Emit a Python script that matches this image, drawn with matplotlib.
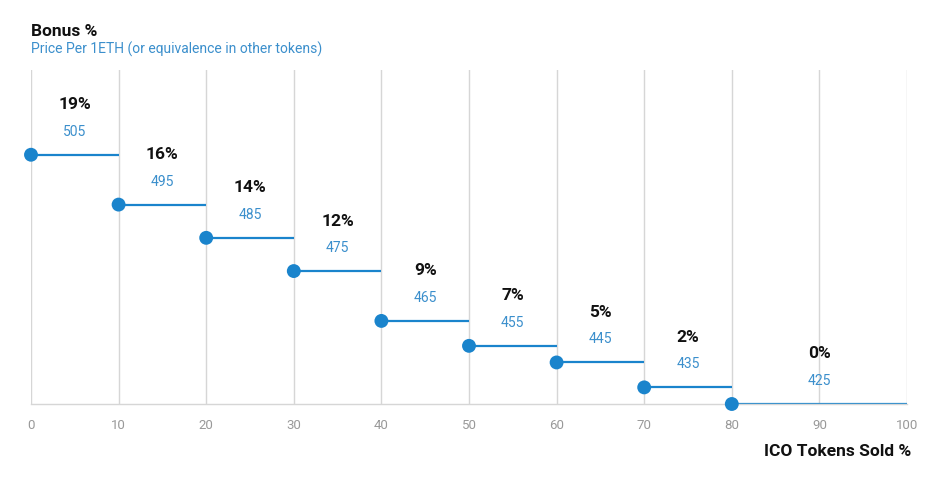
import matplotlib
matplotlib.use("Agg")
import matplotlib.pyplot as plt

plt.rcParams['font.family'] = ['Roboto', 'DejaVu Sans']

starts = [0, 10, 20, 30, 40, 50, 60, 70, 80]
ends = [10, 20, 30, 40, 50, 60, 70, 80, 100]
levels = [30, 24, 20, 16, 10, 7, 5, 2, 0]
bonus = ["19%", "16%", "14%", "12%", "9%", "7%", "5%", "2%", "0%"]
prices = ["505", "495", "485", "475", "465", "455", "445", "435", "425"]
xticks = [0, 10, 20, 30, 40, 50, 60, 70, 80, 90, 100]

BLUE = "#1a84cc"
PRICE_BLUE = "#3b8fcc"

fig = plt.figure(figsize=(9.43, 4.8), dpi=100)
ax = fig.add_axes([31/943, 76/480, 876/943, 334/480])
ax.set_xlim(0, 100)
ax.set_ylim(0, 40.2)

for x in xticks:
    ax.axvline(x, color="#d6d6d6", lw=1.0, zorder=0)

for s, e, lv, b, p in zip(starts, ends, levels, bonus, prices):
    ax.plot([s, e], [lv, lv], color=BLUE, lw=1.6, zorder=2, solid_capstyle="butt")
    ax.scatter([s], [lv], s=100, color=BLUE, zorder=3, edgecolors="none", clip_on=False)
    mid = s + 5 if e - s == 10 else s + 10
    ax.annotate(b, (mid, lv), xytext=(0, 50*0.72), textcoords="offset points",
                ha="center", va="center", fontsize=12.5, fontweight="bold", color="#111111")
    ax.annotate(p, (mid, lv), xytext=(0, 23*0.72), textcoords="offset points",
                ha="center", va="center", fontsize=10, color=PRICE_BLUE)

ax.set_yticks([])
ax.set_xticks(xticks)
ax.set_xticklabels([str(x) for x in xticks])
ax.tick_params(axis="x", length=0, pad=11, labelsize=9.5, labelcolor="#999999")
for sp in ["top", "left", "right"]:
    ax.spines[sp].set_visible(False)
ax.spines["bottom"].set_color("#d6d6d6")
ax.spines["bottom"].set_linewidth(1.0)

fig.text(31/943, 1 - 32/480, "Bonus %", fontsize=12.5, fontweight="bold", color="#111111", va="center", ha="left")
fig.text(31/943, 1 - 49/480, "Price Per 1ETH (or equivalence in other tokens)", fontsize=10,
         color=PRICE_BLUE, va="center", ha="left")
fig.text(911/943, 1 - 452/480, "ICO Tokens Sold %", fontsize=12.5, fontweight="bold", color="#111111",
         va="center", ha="right")

fig.savefig("out.png", dpi=100, facecolor="white")
